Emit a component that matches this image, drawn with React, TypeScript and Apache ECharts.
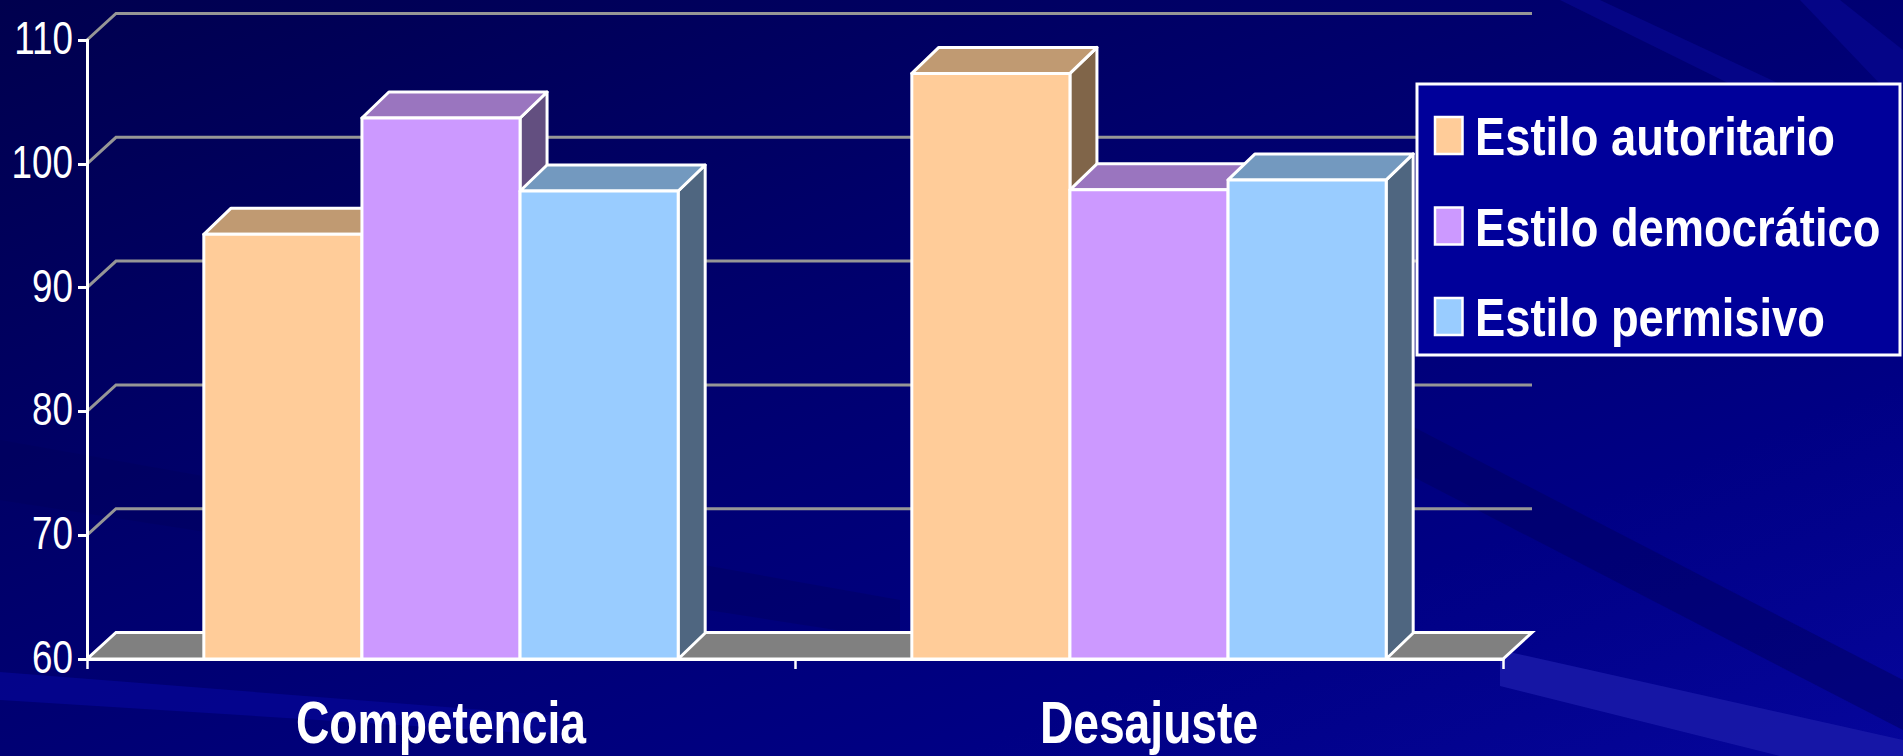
import React, { useEffect, useRef } from "react";
import * as echarts from "echarts";

const categories = ["Competencia", "Desajuste"];
const seriesNames = ["Estilo autoritario", "Estilo democrático", "Estilo permisivo"];
const autoritario = [94.3, 107.3];
const democratico = [103.7, 97.9];
const permisivo = [97.8, 98.7];
const seriesValues = [autoritario, democratico, permisivo];
const yTicks = [60, 70, 80, 90, 100, 110];

const Y_MIN = 60;
const Y_MAX = 110;
const Y_STEP = 10;

const FRONT = ["#FFCC99", "#CC99FF", "#99CCFF"];
const TOPC = ["#C09A72", "#9A75BF", "#7399BF"];
const SIDE = ["#806549", "#634F80", "#4F6680"];

const WALL_DX = 29;
const WALL_DY = 26.5;
const BAR_DX = 27;
const BAR_DY = 26;
const GROUP_GAP = 0.33;
const FONT = "'Liberation Sans', Arial, sans-serif";

export default function App() {
  const ref = useRef<HTMLDivElement>(null);
  useEffect(() => {
    document.body.style.margin = "0";
    const chart = echarts.init(ref.current!, null, { renderer: "svg" });

    const wallSeries: any = {
      type: "custom",
      name: "wall",
      z: 1,
      silent: true,
      clip: false,
      data: yTicks.map((v) => [0, v]),
      renderItem: (params: any, api: any) => {
        const v = api.value(1);
        const cs = params.coordSys;
        const y = api.coord([0, v])[1];
        const l = cs.x;
        const r = cs.x + cs.width;
        const label = {
          type: "text",
          x: l - 14,
          y: y - 2,
          scaleX: 0.8,
          style: {
            text: String(v),
            fill: "#ffffff",
            fontFamily: FONT,
            fontSize: 46,
            align: "right",
            verticalAlign: "middle",
          },
        };
        const line =
          v === Y_MIN
            ? {
                type: "polygon",
                shape: { points: [[l, y], [r, y], [r + WALL_DX, y - WALL_DY], [l + WALL_DX, y - WALL_DY]] },
                style: { fill: "#808080", stroke: "#ffffff", lineWidth: 3 },
              }
            : {
                type: "polyline",
                shape: { points: [[l, y], [l + WALL_DX, y - WALL_DY], [r + WALL_DX, y - WALL_DY]] },
                style: { fill: null, stroke: "#969696", lineWidth: 3 },
              };
        return { type: "group", children: [line, label] };
      },
    };

    const catLabelSeries: any = {
      type: "custom",
      name: "catLabels",
      z: 6,
      silent: true,
      clip: false,
      data: categories.map((c, i) => [i, Y_MIN]),
      renderItem: (params: any, api: any) => {
        const ci = api.value(0);
        const p = api.coord([ci, Y_MIN]);
        return {
          type: "text",
          x: p[0],
          y: p[1] + 63,
          scaleX: 0.77,
          style: {
            text: categories[ci],
            fill: "#ffffff",
            fontFamily: FONT,
            fontWeight: "bold",
            fontSize: 60,
            align: "center",
            verticalAlign: "middle",
          },
        };
      },
    };

    const barSeries: any[] = seriesNames.map((name, k) => ({
      type: "custom",
      name,
      z: 2 + k,
      clip: false,
      itemStyle: { color: FRONT[k] },
      data: seriesValues[k].map((v, ci) => [ci, v]),
      encode: { x: 0, y: 1 },
      renderItem: (params: any, api: any) => {
        const ci = api.value(0);
        const v = api.value(1);
        const top = api.coord([ci, v]);
        const base = api.coord([ci, Y_MIN]);
        const band = api.size([1, 0])[0];
        const groupW = band * (1 - GROUP_GAP);
        const bw = groupW / 3;
        const x0 = top[0] - groupW / 2 + k * bw;
        const x1 = x0 + bw;
        const yt = top[1];
        const yb = base[1];
        const st = { stroke: "#ffffff", lineWidth: 3, lineJoin: "round" };
        return {
          type: "group",
          children: [
            {
              type: "polygon",
              shape: { points: [[x1, yt], [x1 + BAR_DX, yt - BAR_DY], [x1 + BAR_DX, yb - BAR_DY], [x1, yb]] },
              style: { fill: SIDE[k], ...st },
            },
            {
              type: "polygon",
              shape: { points: [[x0, yt], [x1, yt], [x1 + BAR_DX, yt - BAR_DY], [x0 + BAR_DX, yt - BAR_DY]] },
              style: { fill: TOPC[k], ...st },
            },
            {
              type: "rect",
              shape: { x: x0, y: yt, width: bw, height: yb - yt },
              style: { fill: FRONT[k], ...st },
            },
          ],
        };
      },
    }));

    const W = 1903;
    const H = 756;
    const bgGraphics: any[] = [
      {
        type: "rect",
        z: -10,
        silent: true,
        shape: { x: 0, y: 0, width: W, height: H },
        style: {
          fill: new echarts.graphic.LinearGradient(0, 0, 1, 1, [
            { offset: 0, color: "#00004e" },
            { offset: 0.45, color: "#000070" },
            { offset: 0.75, color: "#000084" },
            { offset: 1, color: "#06069c" },
          ]),
        },
      },
      {
        type: "polygon",
        z: -9,
        silent: true,
        shape: { points: [[0, 672], [0, 700], [560, 735], [560, 716]] },
        style: { fill: "#0808a0", opacity: 0.55 },
      },
      {
        type: "polygon",
        z: -9,
        silent: true,
        shape: { points: [[1500, 650], [1903, 740], [1903, 756], [1780, 756], [1500, 686]] },
        style: { fill: "#1a1aa8", opacity: 0.85 },
      },
      {
        type: "polygon",
        z: -9,
        silent: true,
        shape: { points: [[1400, 420], [1903, 680], [1903, 730], [1400, 470]] },
        style: { fill: "#000060", opacity: 0.5 },
      },
      {
        type: "polygon",
        z: -9,
        silent: true,
        shape: { points: [[0, 440], [0, 500], [900, 640], [900, 600]] },
        style: { fill: "#00005a", opacity: 0.35 },
      },
      {
        type: "polygon",
        z: -9,
        silent: true,
        shape: { points: [[1560, 0], [1600, 0], [1780, 84], [1730, 84]] },
        style: { fill: "#0a0a98", opacity: 0.55 },
      },
      {
        type: "polygon",
        z: -9,
        silent: true,
        shape: { points: [[1800, 0], [1840, 0], [1903, 50], [1903, 84], [1880, 84]] },
        style: { fill: "#0a0a98", opacity: 0.55 },
      },
      {
        type: "rect",
        z: 5,
        silent: true,
        shape: { x: 1417, y: 84, width: 483, height: 271 },
        style: { fill: "#00009a", stroke: "#ffffff", lineWidth: 3 },
      },
      ...seriesNames.flatMap((name, i) => {
        const cy = 135.5 + i * 90.5;
        return [
          {
            type: "rect",
            z: 6,
            silent: true,
            shape: { x: 1435, y: cy - 18.5, width: 27.5, height: 37 },
            style: { fill: FRONT[i], stroke: "#ffffff", lineWidth: 2.5 },
          },
          {
            type: "text",
            z: 6,
            silent: true,
            x: 1475,
            y: cy + 1,
            scaleX: 0.855,
            style: {
              text: name,
              fill: "#ffffff",
              fontFamily: FONT,
              fontWeight: "bold",
              fontSize: 53,
              align: "left",
              verticalAlign: "middle",
            },
          },
        ];
      }),
    ];

    chart.setOption({
      animation: false,
      backgroundColor: "#000070",
      graphic: bgGraphics,
      grid: { left: 87, top: 40, width: 1416, height: 619, containLabel: false },
      xAxis: {
        type: "category",
        data: categories,
        boundaryGap: true,
        axisLine: { show: true, lineStyle: { color: "#ffffff", width: 3 } },
        axisTick: { show: true, length: 10, lineStyle: { color: "#ffffff", width: 2.5 } },
        axisLabel: { show: false },
        splitLine: { show: false },
        z: 6,
      },
      yAxis: {
        type: "value",
        min: Y_MIN,
        max: Y_MAX,
        interval: Y_STEP,
        axisLine: { show: true, lineStyle: { color: "#ffffff", width: 3 } },
        axisTick: { show: true, length: 9, lineStyle: { color: "#ffffff", width: 3 } },
        axisLabel: { show: false },
        splitLine: { show: false },
        z: 6,
      },
      series: [wallSeries, ...barSeries, catLabelSeries],
    });
    return () => chart.dispose();
  }, []);
  return <div ref={ref} style={{ position: "absolute", left: 0, top: 0, width: 1903, height: 756 }} />;
}
